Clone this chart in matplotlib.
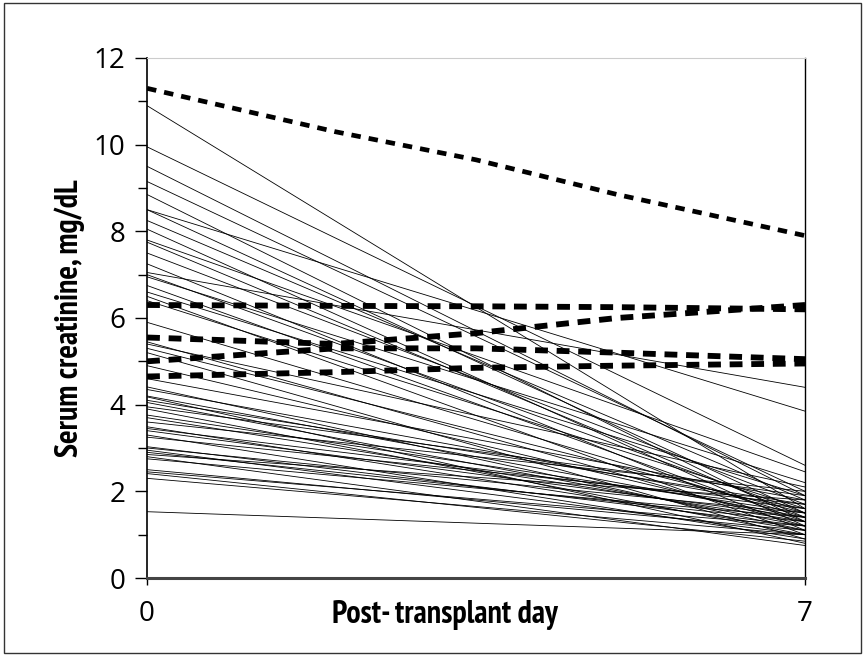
import matplotlib
matplotlib.use("Agg")
import matplotlib.pyplot as plt
from matplotlib.patches import Rectangle
from matplotlib.ticker import MultipleLocator

# Thin lines: creatinine at day 0 and day 7 for each patient
days = [0, 7]
day0 = [10.9, 9.95, 9.5, 9.15, 8.85, 8.5, 8.5, 8.25, 8.05, 7.8, 7.75, 7.5, 7.25, 7.05,
        7.0, 6.95, 6.75, 6.6, 6.5, 6.4, 5.9, 5.45, 5.4, 5.3, 5.2, 4.9, 4.6, 4.41, 4.35,
        4.2, 4.18, 4.1, 4.05, 3.95, 3.9, 3.76, 3.7, 3.6, 3.49, 3.45, 3.4, 3.3, 3.25,
        3.03, 3.0, 2.95, 2.9, 2.85, 2.8, 2.75, 2.5, 2.45, 2.41, 2.3, 1.53]
day7 = [1.6, 2.6, 1.9, 2.0, 1.3, 3.85, 1.5, 1.8, 1.2, 2.45, 1.4, 1.7, 1.1, 4.4,
        1.5, 2.2, 1.3, 1.9, 1.0, 1.6, 1.4, 1.2, 2.1, 1.5, 0.9, 1.3, 1.8, 1.1, 1.6,
        1.4, 0.8, 1.7, 1.2, 1.9, 1.0, 1.5, 1.3, 2.0, 1.1, 1.6, 1.4, 0.9, 1.7,
        1.2, 1.5, 1.0, 1.3, 1.8, 0.75, 1.4, 1.1, 1.2, 0.85, 1.0, 1.0]

# Dashed lines (patients with delayed function)
dash_days = [0, 2, 3.5, 5, 7]
dash_a = [11.3, 10.3, 9.65, 8.85, 7.9]
dash_b = [6.3, 6.28, 6.27, 6.25, 6.2]
dash_c = [5.55, 5.4, 5.65, 6.0, 6.3]
dash_d = [5.0, 5.3, 5.3, 5.2, 5.05]
dash_e = [4.65, 4.75, 4.85, 4.9, 4.95]

x_ticks = [0, 7]
x_ticklabels = ["0", "7"]
y_ticks = [0, 2, 4, 6, 8, 10, 12]

TICK_FONT = ["Open Sans", "DejaVu Sans"]
LABEL_FONT = ["PT Sans Narrow", "DejaVu Sans"]

fig = plt.figure(figsize=(8.65, 6.56), dpi=100)
fig.patches.append(Rectangle((0.005, 0.005), 0.99, 0.99, transform=fig.transFigure,
                             fill=False, edgecolor="#333333", linewidth=1.0))
ax = fig.add_axes([0.170, 0.1189, 0.7607, 0.7927])

for a, b in zip(day0, day7):
    ax.plot(days, [a, b], color="black", linewidth=0.6, solid_capstyle="butt")

ax.plot(dash_days, dash_a, color="black", linewidth=3.4, linestyle=(0, (2.0, 1.7)))
for d in (dash_b, dash_c, dash_d, dash_e):
    ax.plot(dash_days, d, color="black", linewidth=4.2, linestyle=(0, (2.2, 1.5)))

ax.set_xlim(0, 7)
ax.set_ylim(0, 12)
ax.set_xticks(x_ticks)
ax.set_xticklabels(x_ticklabels)
ax.set_yticks(y_ticks)
ax.yaxis.set_minor_locator(MultipleLocator(1))

for lab in ax.get_xticklabels() + ax.get_yticklabels():
    lab.set_fontsize(20)
    lab.set_family(TICK_FONT)
    lab.set_fontweight("normal")

ax.tick_params(axis="y", which="major", direction="out", length=8.5, width=1.0, pad=7)
ax.tick_params(axis="y", which="minor", direction="out", length=6.5, width=1.0)
ax.tick_params(axis="x", which="major", direction="out", length=5, width=1.0, pad=11)

ax.spines["top"].set_color("#cccccc")
ax.spines["top"].set_linewidth(0.8)
ax.spines["right"].set_color("black")
ax.spines["right"].set_linewidth(1.0)
ax.spines["left"].set_linewidth(1.2)
ax.spines["bottom"].set_linewidth(2.2)
ax.spines["bottom"].set_color("#444444")

ax.set_xlabel("Post- transplant day", fontsize=23, fontweight="bold", family=LABEL_FONT)
ax.xaxis.set_label_coords(0.453, -0.043)
ax.set_ylabel("Serum creatinine, mg/dL", fontsize=23, fontweight="bold", family=LABEL_FONT)
ax.yaxis.set_label_coords(-0.094, 0.5)

fig.savefig("out.png", dpi=100)
